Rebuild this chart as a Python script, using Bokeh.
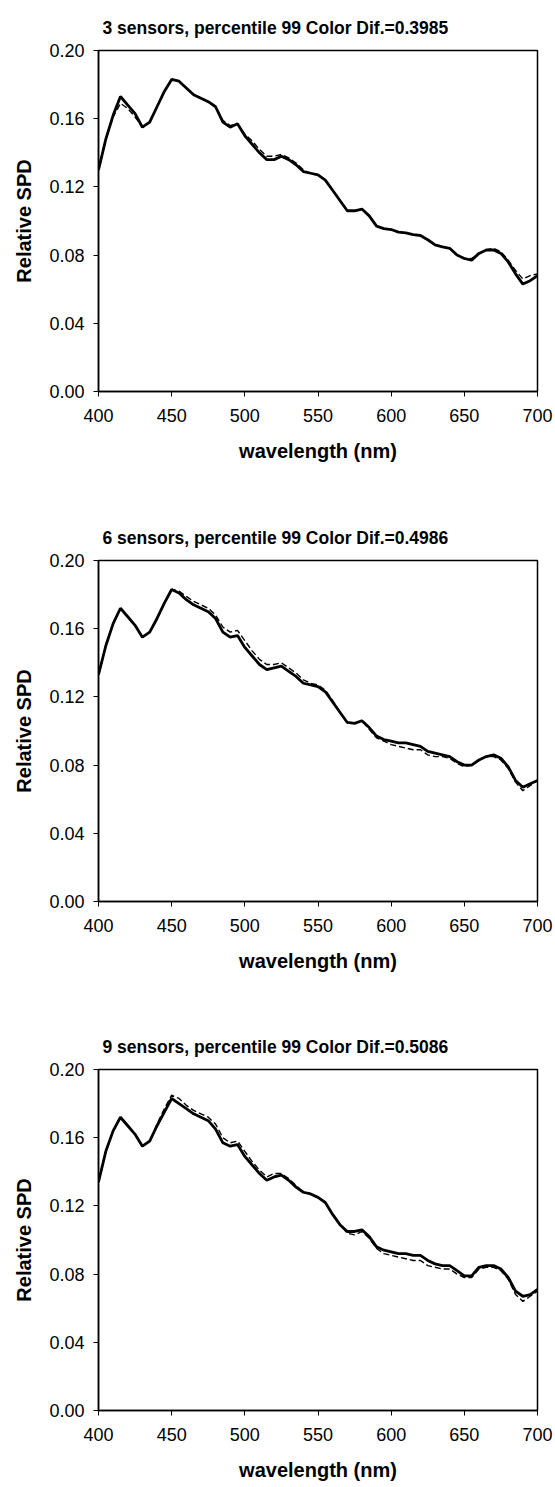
from bokeh.plotting import figure
from bokeh.layouts import column
from bokeh.models import Range1d, FixedTicker, NumeralTickFormatter
from bokeh.embed import file_html
from bokeh.resources import INLINE

wavelength = list(range(400, 701, 5))

titles = [
    "3 sensors, percentile 99 Color Dif.=0.3985",
    "6 sensors, percentile 99 Color Dif.=0.4986",
    "9 sensors, percentile 99 Color Dif.=0.5086",
]

measured_3 = [0.130, 0.148, 0.162, 0.173, 0.168, 0.163, 0.155, 0.158, 0.167, 0.176,
              0.183, 0.182, 0.178, 0.174, 0.172, 0.170, 0.167, 0.158, 0.155, 0.157,
              0.150, 0.145, 0.140, 0.136, 0.136, 0.138, 0.136, 0.133, 0.129, 0.128,
              0.127, 0.124, 0.118, 0.112, 0.106, 0.106, 0.107, 0.103, 0.097, 0.0955,
              0.095, 0.0935, 0.093, 0.092, 0.0915, 0.089, 0.086, 0.0848, 0.084, 0.080,
              0.078, 0.077, 0.081, 0.083, 0.083, 0.081, 0.076, 0.069, 0.063, 0.065,
              0.068]
estimated_3 = [0.130, 0.148, 0.161, 0.169, 0.166, 0.161, 0.155, 0.158, 0.167, 0.176,
               0.183, 0.182, 0.178, 0.174, 0.172, 0.170, 0.167, 0.159, 0.156, 0.157,
               0.151, 0.147, 0.142, 0.138, 0.138, 0.139, 0.137, 0.134, 0.130, 0.128,
               0.127, 0.124, 0.118, 0.112, 0.106, 0.106, 0.107, 0.103, 0.097, 0.0955,
               0.095, 0.0935, 0.093, 0.092, 0.0915, 0.089, 0.086, 0.0848, 0.084, 0.080,
               0.078, 0.078, 0.081, 0.083, 0.084, 0.082, 0.077, 0.071, 0.066, 0.068,
               0.069]

measured_6 = [0.133, 0.150, 0.163, 0.172, 0.167, 0.162, 0.155, 0.158, 0.166, 0.175,
              0.183, 0.181, 0.177, 0.174, 0.172, 0.170, 0.166, 0.158, 0.155, 0.156,
              0.149, 0.144, 0.139, 0.136, 0.137, 0.138, 0.135, 0.132, 0.128, 0.127,
              0.126, 0.123, 0.117, 0.111, 0.105, 0.1045, 0.106, 0.102, 0.097, 0.095,
              0.094, 0.093, 0.093, 0.092, 0.091, 0.088, 0.087, 0.086, 0.085, 0.082,
              0.080, 0.080, 0.083, 0.085, 0.086, 0.084, 0.079, 0.071, 0.067, 0.069,
              0.071]
estimated_6 = [0.133, 0.150, 0.163, 0.172, 0.167, 0.162, 0.155, 0.158, 0.166, 0.175,
               0.183, 0.182, 0.179, 0.176, 0.174, 0.172, 0.168, 0.161, 0.158, 0.159,
               0.153, 0.147, 0.142, 0.139, 0.139, 0.140, 0.137, 0.134, 0.130, 0.128,
               0.127, 0.124, 0.118, 0.111, 0.105, 0.1045, 0.106, 0.101, 0.096, 0.094,
               0.092, 0.091, 0.090, 0.089, 0.089, 0.086, 0.085, 0.085, 0.084, 0.081,
               0.079, 0.080, 0.083, 0.085, 0.085, 0.083, 0.078, 0.070, 0.065, 0.068,
               0.071]

measured_9 = [0.134, 0.152, 0.164, 0.172, 0.167, 0.162, 0.155, 0.158, 0.167, 0.175,
              0.183, 0.180, 0.177, 0.174, 0.172, 0.170, 0.165, 0.157, 0.155, 0.156,
              0.149, 0.144, 0.139, 0.135, 0.137, 0.138, 0.135, 0.131, 0.128, 0.127,
              0.125, 0.122, 0.115, 0.109, 0.105, 0.105, 0.106, 0.102, 0.096, 0.094,
              0.093, 0.092, 0.092, 0.091, 0.091, 0.088, 0.086, 0.085, 0.085, 0.082,
              0.079, 0.079, 0.084, 0.085, 0.085, 0.083, 0.078, 0.070, 0.067, 0.068,
              0.071]
estimated_9 = [0.134, 0.152, 0.164, 0.172, 0.167, 0.162, 0.155, 0.158, 0.168, 0.177,
               0.185, 0.183, 0.179, 0.176, 0.174, 0.172, 0.168, 0.160, 0.157, 0.158,
               0.152, 0.146, 0.141, 0.137, 0.139, 0.139, 0.136, 0.132, 0.128, 0.127,
               0.125, 0.122, 0.115, 0.109, 0.104, 0.103, 0.105, 0.101, 0.095, 0.092,
               0.091, 0.090, 0.089, 0.088, 0.088, 0.085, 0.084, 0.083, 0.083, 0.080,
               0.078, 0.078, 0.083, 0.084, 0.084, 0.082, 0.077, 0.068, 0.064, 0.067,
               0.070]

x_ticks = [400, 450, 500, 550, 600, 650, 700]
y_ticks = [0.0, 0.04, 0.08, 0.12, 0.16, 0.20]

FONT = "Liberation Sans"
series = [(measured_3, estimated_3), (measured_6, estimated_6), (measured_9, estimated_9)]
bottoms = [119, 118, 76]

figs = []
for i, (meas, est) in enumerate(series):
    p = figure(frame_width=439, frame_height=341, output_backend="svg",
               toolbar_location=None, x_range=Range1d(400, 700), y_range=Range1d(0, 0.2),
               min_border_left=98, min_border_right=18, min_border_top=50,
               min_border_bottom=bottoms[i], title=titles[i])
    p.title.text_font = FONT
    p.title.text_font_size = "17.5px"
    p.title.text_font_style = "bold"
    p.title.text_color = "black"
    p.title.align = "left"
    p.title.offset = 4
    p.title.standoff = 26
    p.grid.visible = False
    p.outline_line_color = "black"
    p.outline_line_width = 1.5
    p.background_fill_color = "white"
    p.border_fill_color = "white"

    p.line(wavelength, est, line_color="black", line_width=1.4, line_dash="6 3")
    p.line(wavelength, meas, line_color="black", line_width=2.8)

    for ax in (p.xaxis[0], p.yaxis[0]):
        ax.axis_line_color = "black"
        ax.axis_line_width = 1.5
        ax.major_tick_line_color = "black"
        ax.major_tick_line_width = 1
        ax.major_tick_out = 5
        ax.major_tick_in = 0
        ax.minor_tick_line_color = None
        ax.major_label_text_font = FONT
        ax.major_label_text_font_size = "18px"
        ax.major_label_text_color = "black"
        ax.axis_label_text_font = FONT
        ax.axis_label_text_font_size = "20px"
        ax.axis_label_text_font_style = "bold"
        ax.axis_label_text_color = "black"

    p.xaxis.ticker = FixedTicker(ticks=x_ticks)
    p.yaxis.ticker = FixedTicker(ticks=y_ticks)
    p.yaxis.formatter = NumeralTickFormatter(format="0.00")
    p.xaxis.axis_label = "wavelength (nm)"
    p.yaxis.axis_label = "Relative SPD"
    p.xaxis.major_label_standoff = 12
    p.xaxis.axis_label_standoff = 15
    p.yaxis.major_label_standoff = 9
    p.yaxis.axis_label_standoff = 11
    figs.append(p)

layout = column(*figs, spacing=0)
open("out.html", "w").write(file_html(layout, INLINE))
